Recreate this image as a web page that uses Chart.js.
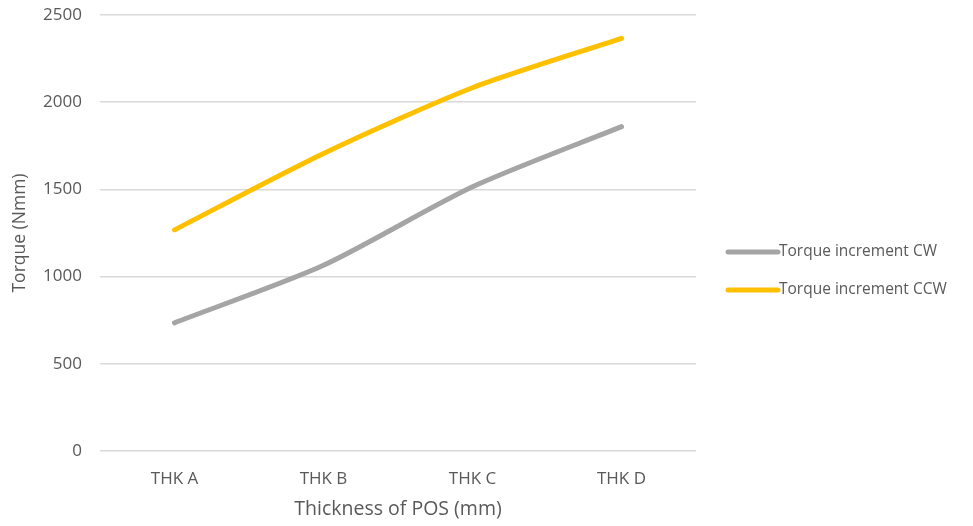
<!DOCTYPE html>
<html>
<head>
<meta charset="utf-8">
<script src="https://cdn.jsdelivr.net/npm/chart.js@4.4.1/dist/chart.umd.min.js"></script>
<style>
    html, body { margin: 0; padding: 0; background: #ffffff; }
    #wrap { width: 973px; height: 526px; position: relative; }
</style>
</head>
<body>
<div id="wrap"><canvas id="torqueChart"></canvas></div>
<script>
// Categorie e valori (Nmm)
const categories = ['THK A', 'THK B', 'THK C', 'THK D'];
const seriesNames = ['Torque increment CW', 'Torque increment CCW'];
const torqueCW = [735, 1065, 1515, 1860];
const torqueCCW = [1268, 1706, 2083, 2366];
const yTicks = [0, 500, 1000, 1500, 2000, 2500];

const textColor = '#595959';
const fontFamily = '"Open Sans", "DejaVu Sans", sans-serif';

// Legenda disegnata a mano a destra dell'area del grafico
const sideLegend = {
    id: 'sideLegend',
    afterDraw: function(chart, args, opts) {
        const ctx = chart.ctx;
        const area = chart.chartArea;
        const x0 = area.right + opts.offsetX;
        ctx.save();
        ctx.font = opts.fontSize + 'px ' + fontFamily;
        ctx.textBaseline = 'middle';
        ctx.textAlign = 'left';
        chart.data.datasets.forEach((ds, i) => {
            const y = opts.top + i * opts.spacing;
            ctx.strokeStyle = ds.borderColor;
            ctx.lineWidth = ds.borderWidth;
            ctx.lineCap = 'round';
            ctx.beginPath();
            ctx.moveTo(x0, y);
            ctx.lineTo(x0 + opts.lineLength, y);
            ctx.stroke();
            ctx.fillStyle = textColor;
            ctx.fillText(ds.label, x0 + opts.lineLength + 1, y);
        });
        ctx.restore();
    }
};

document.addEventListener('DOMContentLoaded', () => {
    const ctx = document.getElementById('torqueChart');
    new Chart(ctx, {
        type: 'line',
        data: {
            labels: categories,
            datasets: [{
                label: seriesNames[0],
                data: torqueCW,
                borderColor: '#a5a5a5',
                backgroundColor: '#a5a5a5',
                borderWidth: 5,
                borderCapStyle: 'round',
                pointRadius: 0,
                tension: 0.25,
                fill: false
            }, {
                label: seriesNames[1],
                data: torqueCCW,
                borderColor: '#ffc000',
                backgroundColor: '#ffc000',
                borderWidth: 5,
                borderCapStyle: 'round',
                pointRadius: 0,
                tension: 0.25,
                fill: false
            }]
        },
        options: {
            responsive: true,
            maintainAspectRatio: false,
            animation: false,
            layout: {
                padding: { left: 0, right: 277, top: 15, bottom: 0 }
            },
            plugins: {
                legend: { display: false },
                tooltip: { enabled: false },
                sideLegend: { offsetX: 32, top: 252, spacing: 38, lineLength: 50, fontSize: 15.5 }
            },
            scales: {
                x: {
                    offset: true,
                    afterFit: function(axis) { axis.height = 75; },
                    grid: { display: false, drawTicks: false },
                    border: { display: false },
                    ticks: {
                        color: textColor,
                        padding: 18,
                        font: { family: fontFamily, size: 17 }
                    },
                    title: {
                        display: true,
                        text: 'Thickness of POS (mm)',
                        color: textColor,
                        padding: { top: 0, bottom: 5 },
                        font: { family: fontFamily, size: 19.5 }
                    }
                },
                y: {
                    min: 0,
                    max: 2500,
                    afterFit: function(axis) {
                        // larghezza fissa e nessun margine extra sopra/sotto
                        axis.width = 100;
                        axis.paddingTop = 0;
                        axis.paddingBottom = 0;
                    },
                    afterBuildTicks: function(axis) {
                        axis.ticks = yTicks.map(v => ({ value: v }));
                    },
                    grid: { color: '#d9d9d9', lineWidth: 1.5, drawTicks: false },
                    border: { display: false },
                    ticks: {
                        color: textColor,
                        padding: 18,
                        font: { family: fontFamily, size: 17 },
                        callback: function(value) { return String(value); }
                    },
                    title: {
                        display: true,
                        text: 'Torque (Nmm)',
                        color: textColor,
                        padding: { top: 10, bottom: 0 },
                        font: { family: fontFamily, size: 17.5 }
                    }
                }
            }
        },
        plugins: [sideLegend]
    });
});
</script>
</body>
</html>
